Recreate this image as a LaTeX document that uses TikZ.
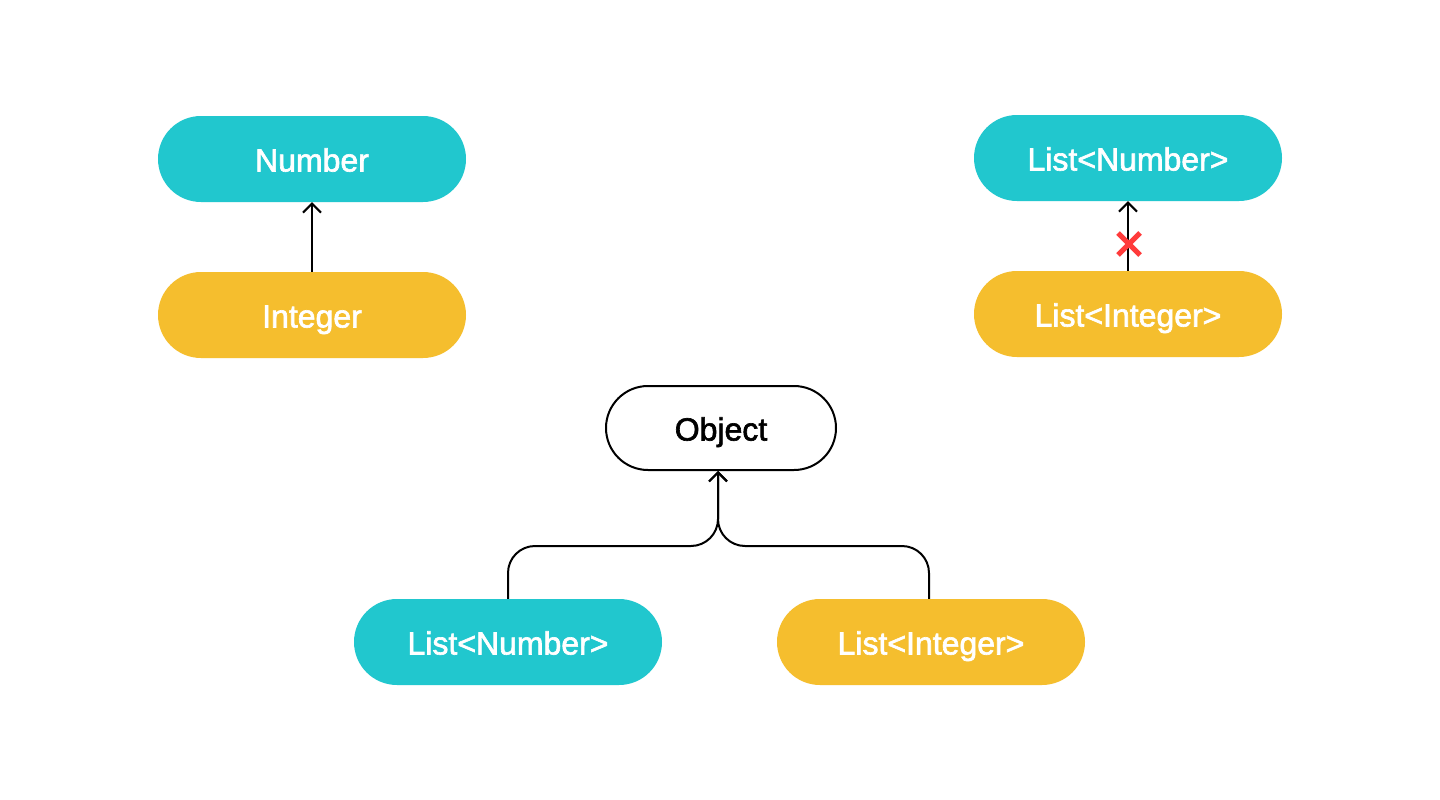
\documentclass[tikz,border=0pt]{standalone}
\usepackage{fontspec}
\setmainfont{Liberation Sans}
\newfontfamily\medfont[FakeBold=2]{Liberation Sans}
\usetikzlibrary{arrows.meta,calc}
\definecolor{teal}{HTML}{21C7CE}
\definecolor{amber}{HTML}{F5BE2E}
\definecolor{crossred}{HTML}{FF3B3B}
\tikzset{
  pilltext/.style={text height=25pt, text depth=0pt, font=\medfont\fontsize{32}{36}\selectfont},
  pill/.style={rectangle, rounded corners=43pt, minimum width=308pt, minimum height=86pt, inner sep=0pt, text=white, pilltext},
  tealpill/.style={pill, fill=teal},
  amberpill/.style={pill, fill=amber},
  objpill/.style={rectangle, rounded corners=42pt, minimum width=230pt, minimum height=84pt, inner sep=0pt, draw=black, line width=2pt, text=black, pilltext},
  conn/.style={draw=black, line width=2pt, -{Straight Barb[length=9pt,width=18pt,line width=2pt]}},
  crossline/.style={draw=crossred, line width=5pt},
}
\begin{document}
\begin{tikzpicture}[x=1pt,y=-1pt]
\useasboundingbox[fill=white] (0,0) rectangle (1440,800);
\node[tealpill] (num) at (312,159) {Number};
\node[amberpill] (int) at (312,315) {Integer};
\node[tealpill] (lnr) at (1128,158) {List<Number>};
\node[amberpill] (lir) at (1128,314) {List<Integer>};
\node[objpill] (obj) at (721,428) {Object};
\node[tealpill] (lnb) at (508,642) {List<Number>};
\node[amberpill] (lib) at (931,642) {List<Integer>};

\draw[conn] (int.north) -- (num.south);
\draw[conn] (lir.north) -- (lnr.south);
\coordinate (x) at (1129,244);
\draw[crossline] ($(x)+(-11,-11)$) -- ($(x)+(11,11)$);
\draw[crossline] ($(x)+(-11,11)$) -- ($(x)+(11,-11)$);

\coordinate (j) at (718,546);
\draw[conn, rounded corners=27pt] (lnb.north -| 508,0) -- (508,546) -- (j) -- (obj.south -| j);
\draw[conn, rounded corners=27pt] (lib.north -| 929,0) -- (929,546) -- (j) -- (obj.south -| j);
\end{tikzpicture}
\end{document}
